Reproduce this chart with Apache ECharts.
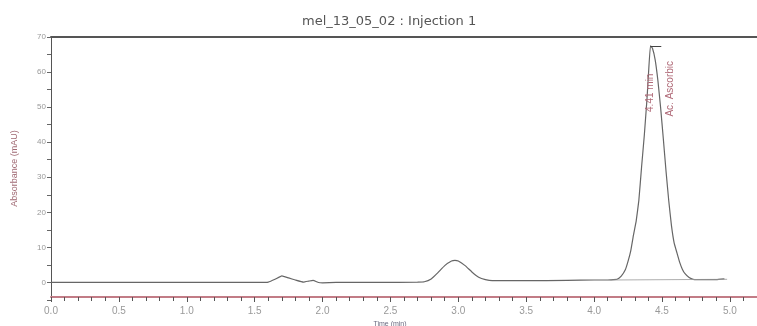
<!DOCTYPE html>
<html>
<head>
<meta charset="utf-8">
<script src="https://cdn.jsdelivr.net/npm/echarts@6/dist/echarts.min.js"></script>
<style>
  html, body { margin: 0; padding: 0; background: #fff; }
  #chart { width: 757px; height: 326px; }
</style>
</head>
<body>
<div id="chart"></div>
<script>
// chromatogram (time in min, absorbance in mAU)
const timeMin = [
  0.00, 0.50, 1.00, 1.50, 1.55, 1.60, 1.65, 1.70, 1.75, 1.80, 1.86, 1.90, 1.93, 1.97, 2.00, 2.10,
  2.40, 2.70, 2.75, 2.80, 2.85, 2.90, 2.95, 2.975, 3.00, 3.05, 3.10, 3.15, 3.20, 3.25, 3.50,
  3.80, 4.00, 4.10, 4.14, 4.17, 4.20, 4.23, 4.25, 4.27, 4.29, 4.31, 4.33, 4.35, 4.37, 4.39, 4.40, 4.415,
  4.43, 4.45, 4.47, 4.49, 4.51, 4.53, 4.55, 4.57, 4.59, 4.61, 4.63, 4.65, 4.67, 4.70, 4.73,
  4.80, 4.90, 4.96
];
const absMAU = [
  0.0, 0.0, 0.0, 0.0, 0.0, 0.1, 0.9, 1.9, 1.3, 0.7, 0.1, 0.4, 0.6, 0.0, -0.1, 0.0,
  0.0, 0.1, 0.2, 1.0, 2.8, 4.8, 6.1, 6.3, 6.1, 4.8, 3.0, 1.5, 0.8, 0.5, 0.5,
  0.6, 0.7, 0.7, 0.8, 0.9, 1.8, 3.6, 6.0, 9.0, 13.5, 17.5, 23.5, 33.0, 42.0, 52.5, 59.0, 67.5,
  66.8, 63.5, 57.6, 49.9, 41.0, 31.7, 23.3, 16.2, 11.2, 8.5, 5.8, 3.8, 2.5, 1.4, 0.9,
  0.8, 0.8, 1.0
];
// integration baseline under the main peak
const baseTime = [4.12, 4.98];
const baseMAU = [0.7, 0.9];

const yTicks = [0, 10, 20, 30, 40, 50, 60, 70];
const titleText = 'mel_13_05_02 : Injection 1';
const peakRT = '4.41 min';
const peakName = 'Ac. Ascorbic';

const font = '"Liberation Sans", Arial, sans-serif';
const pairs = (xs, ys) => xs.map((x, i) => [x, ys[i]]);

// apex of the chromatogram
let apex = 0;
absMAU.forEach((v, i) => { if (v > absMAU[apex]) apex = i; });
const apexPt = [timeMin[apex], absMAU[apex]];

const chart = echarts.init(document.getElementById('chart'));
chart.setOption({
  animation: false,
  title: {
    text: titleText,
    left: 297,
    top: 10,
    textStyle: { fontFamily: '"DejaVu Sans", sans-serif', fontSize: 13, fontWeight: 'normal', color: '#555' }
  },
  grid: { left: 51, right: 0, top: 37, bottom: 26, containLabel: false, outerBoundsMode: 'none' },
  xAxis: [{
    type: 'value',
    min: 0,
    max: 5.2,
    interval: 0.5,
    offset: -3,
    name: 'Time (min)',
    nameLocation: 'middle',
    nameGap: 22,
    nameTextStyle: { fontFamily: font, fontSize: 7, color: '#6a6a80', padding: [0, 28, 0, 0] },
    axisLine: { show: true, onZero: false, lineStyle: { color: '#c27c86', width: 2 } },
    axisTick: { show: true, length: 5, lineStyle: { color: '#555' } },
    minorTick: { show: true, splitNumber: 5, length: 4, lineStyle: { color: '#555' } },
    splitLine: { show: false },
    axisLabel: {
      fontFamily: font, fontSize: 10, color: '#999', margin: 9,
      formatter: v => (Math.abs(v * 2 - Math.round(v * 2)) < 1e-6 ? v.toFixed(1) : '')
    }
  }, {
    type: 'value',
    position: 'top',
    min: 0,
    max: 5.2,
    axisLine: { show: true, onZero: false, lineStyle: { color: '#555', width: 2 } },
    axisTick: { show: false },
    axisLabel: { show: false },
    splitLine: { show: false }
  }],
  yAxis: {
    type: 'value',
    min: -5,
    max: 70,
    interval: 5,
    name: 'Absorbance (mAU)',
    nameLocation: 'middle',
    nameGap: 32,
    nameTextStyle: { fontFamily: font, fontSize: 9, color: '#a06a74' },
    axisLine: { show: true, lineStyle: { color: '#555', width: 1 } },
    axisTick: { show: true, length: 4, lineStyle: { color: '#666' } },
    splitLine: { show: false },
    axisLabel: {
      fontFamily: font, fontSize: 8, color: '#999', margin: 5,
      formatter: v => (yTicks.indexOf(v) >= 0 ? String(v) : '')
    }
  },
  series: [{
    type: 'line',
    data: pairs(timeMin, absMAU),
    showSymbol: false,
    smooth: 0.1,
    lineStyle: { color: '#666', width: 1.2 },
    markLine: {
      silent: true,
      symbol: 'none',
      label: { show: false },
      lineStyle: { color: '#444', width: 1, type: 'solid' },
      data: [[{ coord: apexPt }, { coord: [apexPt[0] + 0.08, apexPt[1]] }]]
    },
    markPoint: {
      symbol: 'circle',
      symbolSize: 0,
      silent: true,
      data: [
        {
          coord: apexPt,
          label: {
            show: true, formatter: peakRT, rotate: 90, offset: [-47, 0],
            fontFamily: font, fontSize: 10, color: '#b06a78'
          }
        },
        {
          coord: apexPt,
          label: {
            show: true, formatter: peakName, rotate: 90, offset: [-43, 20],
            fontFamily: font, fontSize: 10, color: '#b06a78'
          }
        }
      ]
    }
  }, {
    type: 'line',
    data: pairs(baseTime, baseMAU),
    showSymbol: false,
    lineStyle: { color: '#999', width: 0.8 }
  }]
});
</script>
</body>
</html>
